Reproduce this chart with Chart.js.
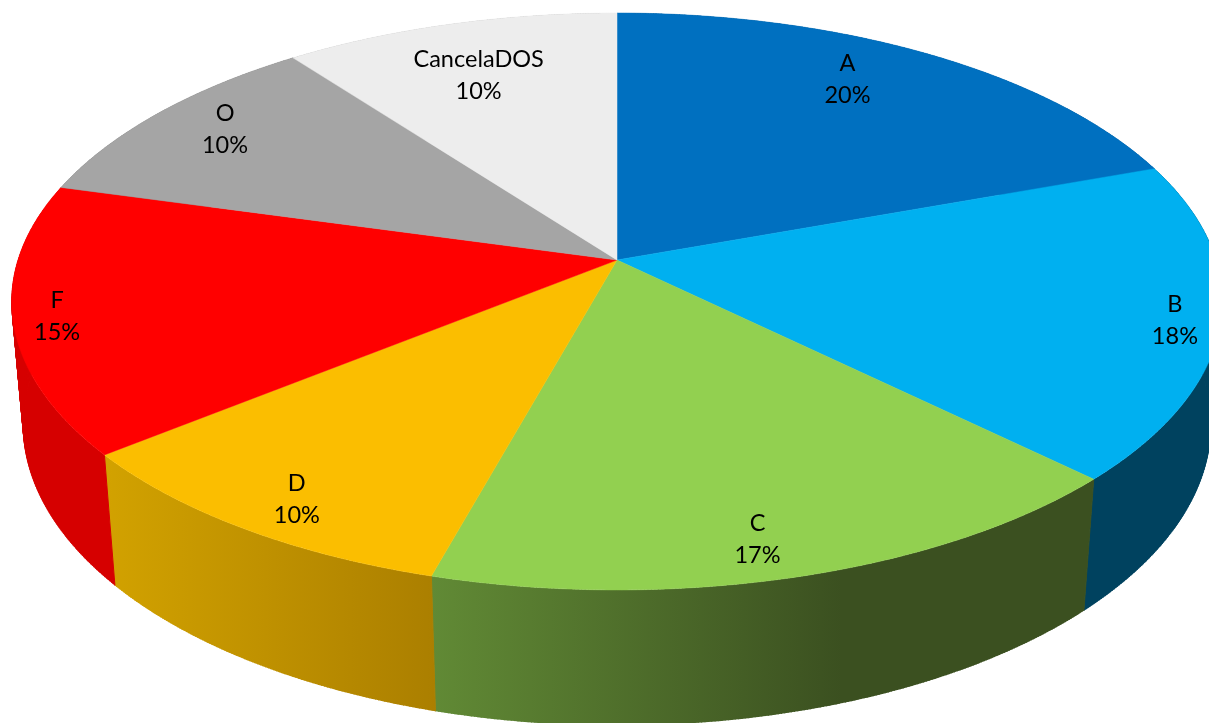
<!DOCTYPE html>
<html lang="es">
<head>
    <meta charset="UTF-8">
    <title>Pie 3D</title>
    <script src="https://cdn.jsdelivr.net/npm/chart.js"></script>
    <style>
        * { margin: 0; padding: 0; }
        html, body { background: white; overflow: hidden; }
        #wrap { width: 1209px; height: 723px; }
    </style>
</head>
<body>
    <div id="wrap"><canvas id="pie"></canvas></div>
    <script>
        // Data
        const categories = ['A', 'B', 'C', 'D', 'F', 'O', 'CancelaDOS'];
        const shares = [19.5, 17.8, 17.0, 9.9, 15.1, 10.4, 10.3];

        // Style: top colour and side wall colours (left to right)
        const topColors = ['#0070C0', '#00B0F0', '#92D050', '#FBBE00', '#FF0000', '#A5A5A5', '#EDEDED'];
        const wallColors = [
            ['#005487', '#005487'],
            ['#00425F', '#00425F'],
            ['#618A35', '#3B5020'],
            ['#D2A200', '#AB7F00'],
            ['#D60000', '#D60000'],
            ['#7A7A7A', '#7A7A7A'],
            ['#B0B0B0', '#B0B0B0']
        ];
        // Label placement on the disc: radius fraction and nudge from mid angle (deg)
        const labelRadius = [0.82, 0.927, 0.891, 0.894, 0.929, 0.859, 0.766];
        const labelNudge = [-4, 0.6, 1.8, -1.1, -0.3, 1.1, -0.9];

        // Perspective of the disc
        const cam = { cx: 617, cy: 260, rx: 599, ry: 282.5, tilt: 0.1438, drop: 125, shrink: 0.019 };

        // angle is Chart.js style (0 = 3 o'clock), r is a fraction of the radius
        function project(angle, r, low) {
            const u = r * Math.cos(angle);
            const v = r * Math.sin(angle);
            const d = 1 - cam.tilt * v + (low ? cam.shrink : 0);
            return {
                x: cam.cx + cam.rx * u / d,
                y: cam.cy + (cam.ry * v + (low ? cam.drop : 0)) / d
            };
        }

        function arcPoints(a0, a1, low) {
            const pts = [];
            const n = Math.max(2, Math.ceil((a1 - a0) * 200));
            for (let i = 0; i <= n; i++) {
                pts.push(project(a0 + (a1 - a0) * i / n, 1, low));
            }
            return pts;
        }

        function tracePath(ctx, pts) {
            pts.forEach((p, i) => i ? ctx.lineTo(p.x, p.y) : ctx.moveTo(p.x, p.y));
        }

        const pie3d = {
            id: 'pie3d',
            beforeDatasetsDraw(chart) {
                const ctx = chart.ctx;
                const arcs = chart.getDatasetMeta(0).data;

                // side walls first, the top disc covers what is hidden
                arcs.forEach((arc, i) => {
                    const top = arcPoints(arc.startAngle, arc.endAngle, false);
                    const low = arcPoints(arc.startAngle, arc.endAngle, true);
                    const xs = top.concat(low).map(p => p.x);
                    const grad = ctx.createLinearGradient(Math.min(...xs), 0, Math.max(...xs), 0);
                    grad.addColorStop(0, wallColors[i][0]);
                    // the green wall stops darkening before its right end
                    grad.addColorStop(i === 2 ? 0.62 : 1, wallColors[i][1]);
                    grad.addColorStop(1, wallColors[i][1]);
                    ctx.beginPath();
                    tracePath(ctx, top.concat(low.slice().reverse()));
                    ctx.closePath();
                    ctx.fillStyle = grad;
                    ctx.fill();
                    // vertical rulings fill the tangent between top and bottom rim
                    ctx.beginPath();
                    top.forEach((p, k) => {
                        ctx.moveTo(p.x, p.y);
                        ctx.lineTo(low[k].x, low[k].y);
                    });
                    ctx.strokeStyle = grad;
                    ctx.lineWidth = 1;
                    ctx.stroke();
                });

                // top disc
                arcs.forEach((arc, i) => {
                    const c = project(0, 0, false);
                    ctx.beginPath();
                    tracePath(ctx, [c].concat(arcPoints(arc.startAngle, arc.endAngle, false)));
                    ctx.closePath();
                    ctx.fillStyle = arc.options.backgroundColor;
                    ctx.strokeStyle = arc.options.backgroundColor;
                    ctx.lineWidth = 0.5;
                    ctx.fill();
                    ctx.stroke();
                });

                // labels
                ctx.fillStyle = '#000';
                ctx.font = '23.5px Lato';
                ctx.textAlign = 'center';
                ctx.textBaseline = 'middle';
                arcs.forEach((arc, i) => {
                    const mid = (arc.startAngle + arc.endAngle) / 2 + labelNudge[i] * Math.PI / 180;
                    const p = project(mid, labelRadius[i], false);
                    ctx.fillText(categories[i], p.x, p.y - 16);
                    ctx.fillText(Math.round(shares[i]) + '%', p.x, p.y + 16);
                });
                return false;
            }
        };

        new Chart(document.getElementById('pie'), {
            type: 'pie',
            data: {
                labels: categories,
                datasets: [{
                    data: shares,
                    backgroundColor: topColors,
                    borderWidth: 0
                }]
            },
            options: {
                responsive: true,
                maintainAspectRatio: false,
                animation: false,
                plugins: {
                    legend: { display: false },
                    tooltip: { enabled: false }
                }
            },
            plugins: [pie3d]
        });
    </script>
</body>
</html>
